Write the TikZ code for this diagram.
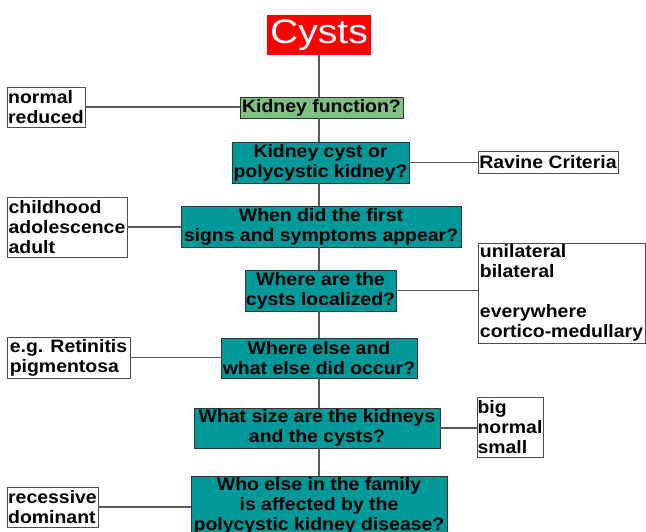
\documentclass[tikz,border=0pt]{standalone}
\usepackage{fontspec}
\setmainfont{Liberation Sans}[FakeStretch=1.08]
\newfontfamily\titlefont{Liberation Sans}[FakeStretch=1.15]
\definecolor{tealc}{RGB}{0,153,153}
\definecolor{greenc}{RGB}{128,192,128}
\definecolor{redc}{RGB}{255,0,0}
\begin{document}
\begin{tikzpicture}[x=1pt,y=-1pt,
  q/.style={draw=black!80, line width=0.8pt, fill=tealc, text=black,
    font=\fontsize{18}{20}\selectfont\bfseries, align=center, inner sep=0pt},
  ans/.style={draw=black!70, line width=0.8pt, fill=white, text=black,
    font=\fontsize{18}{20}\selectfont\bfseries, align=left, inner sep=0pt},
  link/.style={draw=black!65, line width=1.4pt}]
\useasboundingbox (0,0) rectangle (646,532);

\node[fill=redc, text=white, font=\titlefont\fontsize{34}{36}\selectfont,
  minimum width=104pt, minimum height=40pt, inner sep=0pt] (cysts) at (319,35) {Cysts};

\node[q, fill=greenc, minimum width=163pt, minimum height=21pt] (kf) at (321.5,107.5) {Kidney function?};
\node[ans, minimum width=78pt, minimum height=40pt] (normal) at (46,107) {normal\\reduced};

\node[q, minimum width=177pt, minimum height=41pt] (kc) at (320.5,162.5) {Kidney cyst or\\polycystic kidney?};
\node[ans, minimum width=140pt, minimum height=22pt] (ravine) at (548,162) {Ravine Criteria};

\node[q, minimum width=280pt, minimum height=41pt] (when) at (321,226.5) {When did the first\\signs and symptoms appear?};
\node[ans, minimum width=120pt, minimum height=60pt] (child) at (67,227) {childhood\\adolescence\\adult};

\node[q, minimum width=151pt, minimum height=41pt] (where) at (320.5,290.5) {Where are the\\cysts localized?};
\node[ans, minimum width=167pt, minimum height=100pt] (uni) at (561.5,293) {unilateral\\bilateral\\[20pt]everywhere\\cortico-medullary};

\node[q, minimum width=196pt, minimum height=40pt] (else) at (319,358) {Where else and\\what else did occur?};
\node[ans, minimum width=123pt, minimum height=41pt] (eg) at (68.5,357.5) {e.g. Retinitis\\pigmentosa};

\node[q, minimum width=246pt, minimum height=40pt] (size) at (317,428) {What size are the kidneys\\and the cysts?};
\node[ans, minimum width=66pt, minimum height=60pt] (big) at (510,427) {big\\normal\\small};

\node[q, minimum width=256pt, minimum height=60pt] (who) at (319,506) {Who else in the family\\is affected by the\\polycystic kidney disease?};
\node[ans, minimum width=91pt, minimum height=40pt] (rec) at (52.5,507) {recessive\\dominant};

% spine
\draw[link] (cysts.south) -- (cysts.south |- kf.north);
\draw[link] (cysts.south |- kf.south) -- (cysts.south |- kc.north);
\draw[link] (cysts.south |- kc.south) -- (cysts.south |- when.north);
\draw[link] (cysts.south |- when.south) -- (cysts.south |- where.north);
\draw[link] (cysts.south |- where.south) -- (cysts.south |- else.north);
\draw[link] (cysts.south |- else.south) -- (cysts.south |- size.north);
\draw[link] (cysts.south |- size.south) -- (cysts.south |- who.north);

% side branches
\draw[link] (normal.east) -- (normal.east -| kf.west);
\draw[link] (kc.east) -- (kc.east -| ravine.west);
\draw[link] (child.east) -- (child.east -| when.west);
\draw[link] (where.east) -- (where.east -| uni.west);
\draw[link] (eg.east) -- (eg.east -| else.west);
\draw[link] (size.east) -- (size.east -| big.west);
\draw[link] (rec.east) -- (rec.east -| who.west);
\end{tikzpicture}
\end{document}
